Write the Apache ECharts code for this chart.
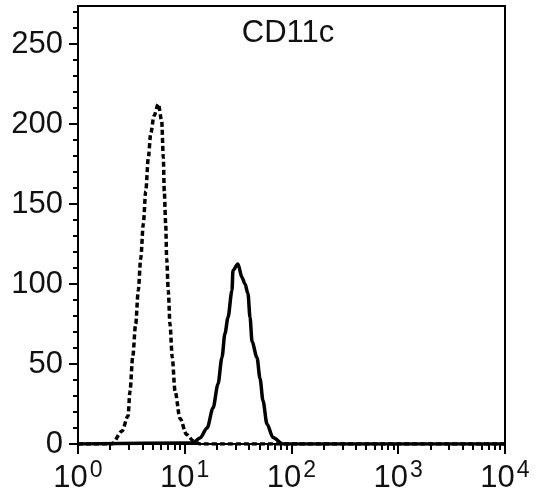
<!DOCTYPE html>
<html><head><meta charset="utf-8">
<script src="https://cdn.jsdelivr.net/npm/echarts@6/dist/echarts.min.js"></script>
<style>html,body{margin:0;padding:0;background:#fff}#c{width:544px;height:504px}</style>
</head><body><div id="c"></div>
<script>
// Isotype control (dashed) histogram
const isoX = [1, 2.08, 2.58, 2.94, 3.07, 3.25, 3.47, 3.67, 3.87, 4.09, 4.31, 4.56, 4.80, 5.15, 5.65, 6.08, 6.30, 6.43, 6.63, 6.77, 7.01, 7.27, 7.64, 8.11, 9.03, 10.4, 12.0, 13.9, 10000];
const isoY = [0, 0, 8, 17.5, 33, 54, 75, 96, 116, 137.5, 158, 179, 194, 205, 212.5, 202, 179, 158, 137.5, 116, 96, 75, 54, 33, 16, 6, 2, 0, 0];
// CD11c (solid) histogram
const cdX = [1, 11.9, 13.9, 16.2, 18.4, 20.5, 22.3, 23.8, 25.4, 27.7, 28.3, 31.5, 34.4, 36.7, 39.1, 40.9, 42.7, 47.5, 50.7, 54.1, 58.9, 67.1, 83.2, 10000];
const cdY = [0, 0.6, 3.8, 10, 22.5, 37.5, 54, 69, 79, 96, 108.5, 112.5, 104, 100, 94, 79, 64, 54, 41, 27, 12.5, 4, 0, 0];

const titleText = 'CD11c';
const xMajorTicks = [1, 10, 100, 1000, 10000];
const xExponents = ['0', '1', '2', '3', '4'];
const xMinorTicks = [];
for (let d = 0; d < 4; d++) for (let k = 2; k <= 9; k++) xMinorTicks.push(k * Math.pow(10, d));
const yMajorTicks = [0, 50, 100, 150, 200, 250];
const yMinorTicks = [10, 20, 30, 40, 60, 70, 80, 90, 110, 120, 130, 140, 160, 170, 180, 190, 210, 220, 230, 240, 260, 270];
const yMax = 273.75;

const FONT = "'Liberation Sans Narrow', 'Arial Narrow', 'Liberation Sans', Arial, sans-serif";
const chart = echarts.init(document.getElementById('c'), null, {renderer: 'canvas'});
const zip = (a, b) => a.map((v, i) => [v, b[i]]);

chart.setOption({
  animation: false,
  backgroundColor: '#fff',
  title: {
    text: titleText, left: 283, top: 13, textAlign: 'center',
    textStyle: {fontFamily: FONT, fontSize: 31, fontWeight: 'normal', color: '#111'}
  },
  grid: {left: 78, right: 39, top: 6, bottom: 60, show: true, borderColor: '#000', borderWidth: 2, backgroundColor: 'transparent'},
  xAxis: [{
    type: 'log', logBase: 10, min: 1, max: 10000, position: 'bottom',
    axisLine: {show: true, onZero: false, lineStyle: {color: '#000', width: 2}},
    axisTick: {show: true, customValues: xMajorTicks, length: 10, lineStyle: {color: '#000', width: 2}},
    splitLine: {show: false},
    axisLabel: {
      customValues: xMajorTicks, margin: 15, color: '#111',
      formatter: function (v) {
        const i = xMajorTicks.findIndex(t => Math.abs(t - v) / t < 1e-6);
        return '{b|10}{s|' + (i >= 0 ? xExponents[i] : '') + '}';
      },
      rich: {
        b: {fontFamily: FONT, fontSize: 31, color: '#111', verticalAlign: 'bottom'},
        s: {fontFamily: FONT, fontSize: 23, color: '#111', verticalAlign: 'bottom', padding: [0, 0, 12, 2]}
      }
    }
  }, {
    type: 'log', logBase: 10, min: 1, max: 10000, position: 'bottom',
    axisLine: {show: false, onZero: false},
    axisTick: {show: true, customValues: xMinorTicks, length: 6, lineStyle: {color: '#000', width: 2}},
    axisLabel: {show: false},
    splitLine: {show: false}
  }],
  yAxis: [{
    type: 'value', min: 0, max: yMax, position: 'left',
    axisLine: {show: true, onZero: false, lineStyle: {color: '#000', width: 2}},
    axisTick: {show: true, customValues: yMajorTicks, length: 9, lineStyle: {color: '#000', width: 2}},
    splitLine: {show: false},
    axisLabel: {customValues: yMajorTicks, margin: 15, fontFamily: FONT, fontSize: 31, color: '#111'}
  }, {
    type: 'value', min: 0, max: yMax, position: 'left',
    axisLine: {show: false, onZero: false},
    axisTick: {show: true, customValues: yMinorTicks, length: 5, lineStyle: {color: '#000', width: 2}},
    axisLabel: {show: false},
    splitLine: {show: false}
  }],
  series: [{
    name: 'Isotype', type: 'line', xAxisIndex: 0, yAxisIndex: 0,
    data: zip(isoX, isoY), showSymbol: false, smooth: 0.3, smoothMonotone: 'x',
    lineStyle: {color: '#000', width: 3.5, type: [5, 3]}
  }, {
    name: 'CD11c', type: 'line', xAxisIndex: 0, yAxisIndex: 0,
    data: zip(cdX, cdY), showSymbol: false, smooth: 0.3, smoothMonotone: 'x',
    lineStyle: {color: '#000', width: 3.5}
  }]
});
</script>
</body></html>
